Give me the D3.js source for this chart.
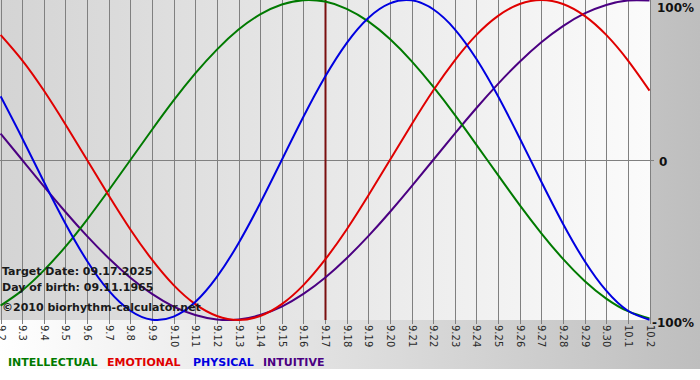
<!DOCTYPE html>
<html><head><meta charset="utf-8">
<script src="https://cdn.jsdelivr.net/npm/d3@7"></script>
<style>body{margin:0;background:#fff}svg{display:block}</style>
</head><body>
<svg id="c" width="700" height="380"></svg>
<script>
const days = ["9.2","9.3","9.4","9.5","9.6","9.7","9.8","9.9","9.10","9.11","9.12","9.13","9.14","9.15","9.16","9.17","9.18","9.19","9.20","9.21","9.22","9.23","9.24","9.25","9.26","9.27","9.28","9.29","9.30","10.1","10.2"];
const physical = [0.398,0.136,-0.136,-0.398,-0.631,-0.817,-0.942,-0.998,-0.979,-0.888,-0.731,-0.520,-0.270,0,0.270,0.520,0.731,0.888,0.979,0.998,0.942,0.817,0.631,0.398,0.136,-0.136,-0.398,-0.631,-0.817,-0.942,-0.998];
const emotional = [0.782,0.623,0.434,0.222,0,-0.222,-0.434,-0.623,-0.782,-0.901,-0.975,-1,-0.975,-0.901,-0.782,-0.623,-0.434,-0.222,0,0.222,0.434,0.623,0.782,0.901,0.975,1,0.975,0.901,0.782,0.623,0.434];
const intellectual = [-0.910,-0.815,-0.690,-0.541,-0.372,-0.189,0,0.189,0.372,0.541,0.690,0.815,0.910,0.972,0.999,0.990,0.945,0.866,0.756,0.618,0.458,0.282,0.095,-0.095,-0.282,-0.458,-0.618,-0.756,-0.866,-0.945,-0.990];
const intuitive = [0.165,0,-0.165,-0.325,-0.476,-0.614,-0.736,-0.837,-0.916,-0.969,-0.997,-0.997,-0.969,-0.916,-0.837,-0.736,-0.614,-0.476,-0.325,-0.165,0,0.165,0.325,0.476,0.614,0.736,0.837,0.916,0.969,0.997,0.997];
const targetIndex = 15;
const yTicks = [{v:1,label:"100%"},{v:0,label:"0"},{v:-1,label:"-100%"}];
const legend = [{name:"INTELLECTUAL",color:"#007a00"},{name:"EMOTIONAL",color:"#e00000"},{name:"PHYSICAL",color:"#0000e0"},{name:"INTUITIVE",color:"#4b0082"}];
const infoLines = ["Target Date: 09.17.2025","Day of birth: 09.11.1965","\u00a92010 biorhythm-calculator.net"];

const svg = d3.select("#c");
const defs = svg.append("defs");
const g1 = defs.append("linearGradient").attr("id","bg").attr("x1","0").attr("x2","1").attr("y1","0").attr("y2","0");
g1.append("stop").attr("offset","0").attr("stop-color","#ffffff");
g1.append("stop").attr("offset","1").attr("stop-color","#bebebe");
const g2 = defs.append("linearGradient").attr("id","pl").attr("x1","0").attr("x2","1").attr("y1","0").attr("y2","0");
g2.append("stop").attr("offset","0").attr("stop-color","#d4d4d4");
g2.append("stop").attr("offset","1").attr("stop-color","#fbfbfb");

const x = d3.scaleLinear().domain([0, days.length-1]).range([0.6, 649.5]);
const y = d3.scaleLinear().domain([-1,1]).range([320, 0]);

svg.append("rect").attr("x",0).attr("y",0).attr("width",700).attr("height",369).attr("fill","url(#bg)");
svg.append("rect").attr("x",0).attr("y",0).attr("width",650).attr("height",320).attr("fill","url(#pl)");

// vertical grid
svg.append("g").selectAll("line").data(days).join("line")
  .attr("x1",(d,i)=>Math.round(x(i))+0.5).attr("x2",(d,i)=>Math.round(x(i))+0.5)
  .attr("y1",0).attr("y2",324).attr("stroke","#808080").attr("stroke-width",1);
// zero line
svg.append("line").attr("x1",0).attr("x2",654).attr("y1",Math.round(y(0))+0.5).attr("y2",Math.round(y(0))+0.5)
  .attr("stroke","#808080").attr("stroke-width",1);

// tick labels
svg.append("g").selectAll("text").data(days).join("text")
  .attr("transform",(d,i)=>`translate(${Math.round(x(i))-3},325) rotate(90)`)
  .attr("font-family","DejaVu Sans, Verdana, sans-serif").attr("font-size",10)
  .attr("fill","#2a2a2a").text(d=>d);

// y labels
svg.append("g").selectAll("text").data(yTicks).join("text")
  .attr("x",d=>d.v===0?659:(d.v>0?657:652)).attr("y",d=>y(d.v)+ (d.v>0?12:(d.v<0?7:6)))
  .attr("font-family","DejaVu Sans, Verdana, sans-serif").attr("font-size",12).attr("font-weight","bold")
  .attr("fill","#111").text(d=>d.label);

// target line
svg.append("line").attr("x1",Math.round(x(targetIndex))+0.5).attr("x2",Math.round(x(targetIndex))+0.5)
  .attr("y1",0).attr("y2",320).attr("stroke","#7a1010").attr("stroke-width",2);

const line = d3.line().x((d,i)=>x(i)).y(d=>y(d)).curve(d3.curveNatural);
const series = [
  {vals:intuitive,color:"#4b0082"},
  {vals:intellectual,color:"#007a00"},
  {vals:emotional,color:"#e00000"},
  {vals:physical,color:"#0000e0"}
];
svg.append("g").selectAll("path").data(series).join("path")
  .attr("d",d=>line(d.vals)).attr("fill","none").attr("stroke",d=>d.color).attr("stroke-width",2);

// info text
svg.append("g").selectAll("text").data(infoLines).join("text")
  .attr("x",2).attr("y",(d,i)=>[275,291,311][i])
  .attr("font-family","DejaVu Sans, Verdana, sans-serif").attr("font-size",11).attr("font-weight","bold")
  .attr("fill","#1a1a1a").text(d=>d);

// legend
const lx = [8,107,193,263];
svg.append("g").selectAll("text").data(legend).join("text")
  .attr("x",(d,i)=>lx[i]).attr("y",366)
  .attr("font-family","DejaVu Sans, Verdana, sans-serif").attr("font-size",11).attr("font-weight","bold")
  .attr("fill",d=>d.color).text(d=>d.name);
</script>
</body></html>
